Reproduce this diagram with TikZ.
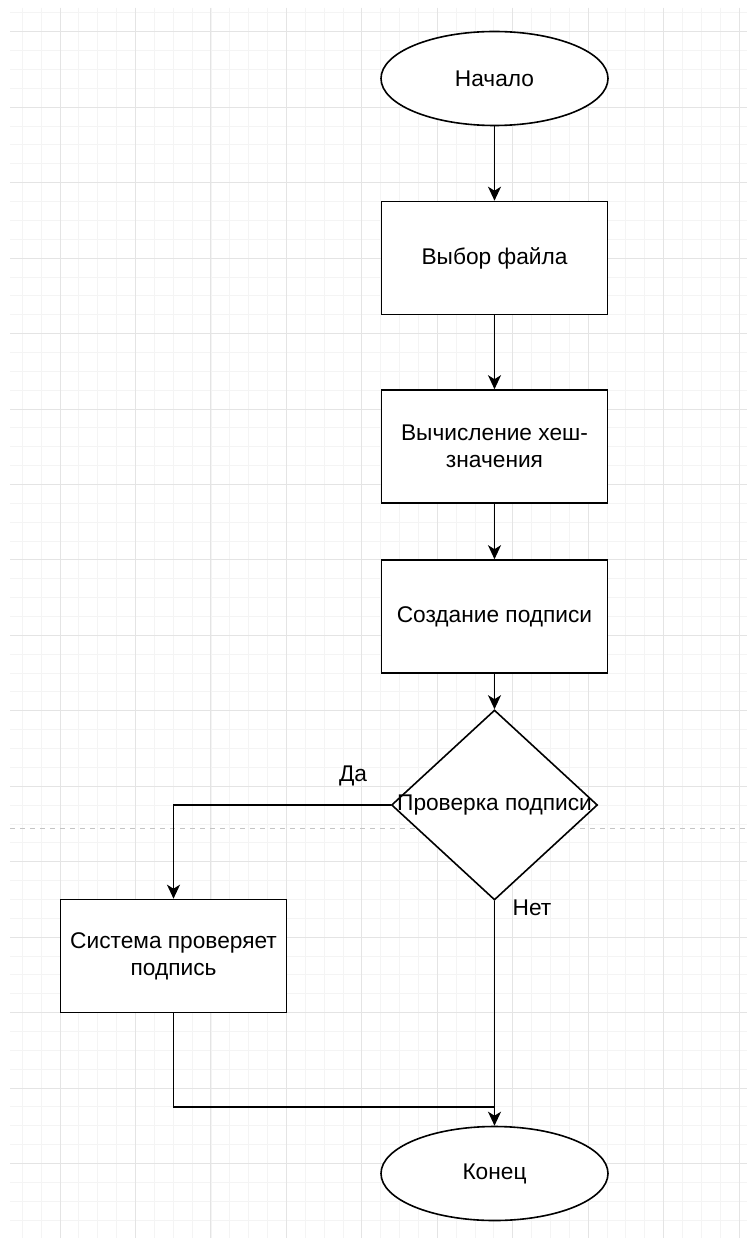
\documentclass[tikz,border=0pt]{standalone}
\usepackage{fontspec}
\setmainfont{Liberation Sans}
\usetikzlibrary{shapes.geometric,arrows.meta}
\definecolor{gridminor}{HTML}{F4F4F4}
\definecolor{gridmajor}{HTML}{E4E4E4}
\definecolor{dashgray}{HTML}{C4C4C4}
\begin{document}
\begin{tikzpicture}[x=1pt,y=-1pt,
  every node/.style={font=\fontsize{22.7}{27}\selectfont},
  box/.style={draw, line width=1.6pt, minimum width=226, minimum height=113, inner sep=0, align=center, fill=white},
  term/.style={draw, ellipse, line width=1.6pt, minimum width=227, minimum height=94, inner sep=0, fill=white},
  decision/.style={draw, diamond, line width=1.6pt, minimum width=206, minimum height=190, inner sep=0, fill=white},
  conn/.style={line width=1.6pt, -{Stealth[length=14pt,width=13pt,inset=4pt]}},
  plainline/.style={line width=1.6pt},
  lbl/.style={inner sep=0}]
\useasboundingbox (0,0) rectangle (747,1238);
\fill[white] (0,0) rectangle (747,1238);
% grid
\foreach \i in {-2,...,36} {
  \draw[gridminor, line width=0.8pt] ({60+18.8625*\i},8) -- ({60+18.8625*\i},1238);
}
\foreach \j in {-1,...,63} {
  \draw[gridminor, line width=0.8pt] (10,{31.7+18.8625*\j}) -- (747,{31.7+18.8625*\j});
}
\foreach \i in {0,...,9} {
  \draw[gridmajor, line width=0.9pt] ({60+75.45*\i},8) -- ({60+75.45*\i},1238);
}
\foreach \j in {0,...,15} {
  \draw[gridmajor, line width=0.9pt] (10,{31.7+75.45*\j}) -- (747,{31.7+75.45*\j});
}
\draw[dashgray, line width=0.9pt, dash pattern=on 5pt off 5pt] (10,828) -- (747,828);

% nodes
\node[term] (start) at (494.5,78.5) {Начало};
\node[box] (b1) at (494.5,258) {Выбор файла};
\node[box] (b2) at (494.5,446.5) {Вычисление хеш-\\значения};
\node[box] (b3) at (494.5,616.5) {Создание подписи};
\node[decision] (d) at (494.5,805) {};
\node[lbl] (dt) at (d.center) {Проверка подписи};
\node[box] (sys) at (173.5,956) {Система проверяет\\подпись};
\node[term] (end) at (494.5,1173.5) {Конец};
\coordinate (j) at (494.5,1107);

% connectors
\draw[conn] (start) -- (b1);
\draw[conn] (b1) -- (b2);
\draw[conn] (b2) -- (b3);
\draw[conn] (b3) -- (d);
\draw[conn] (d.west) -| (sys.north);
\draw[conn] (d.south) -- (end.north);
\draw[plainline] (sys.south) |- (j);

% labels
\node[lbl] (yes) at (353,776) {Да};
\node[lbl] (no) at (532,908) {Нет};
\end{tikzpicture}
\end{document}
